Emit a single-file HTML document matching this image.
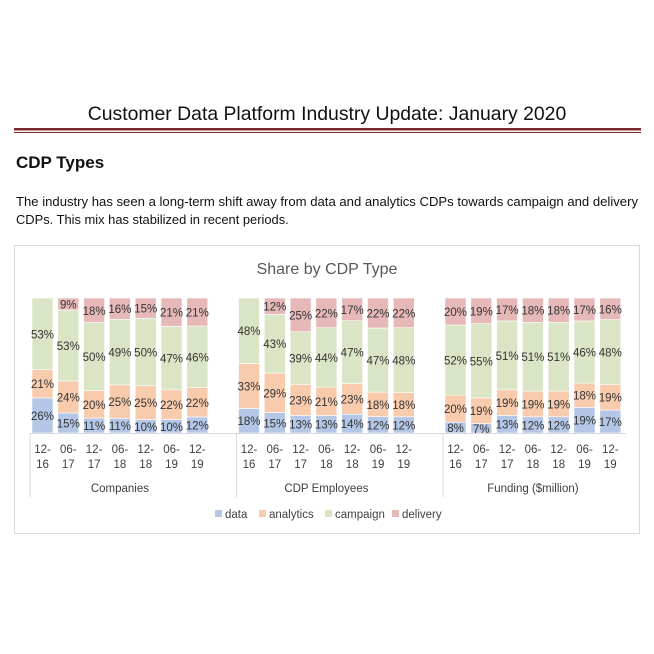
<!DOCTYPE html>
<html><head><meta charset="utf-8"><style>
body{margin:0;background:#fff;font-family:"Liberation Sans",sans-serif;}
svg{display:block}
</style></head><body>
<svg width="654" height="654" viewBox="0 0 654 654" font-family="Liberation Sans, sans-serif">
<text x="327" y="120" text-anchor="middle" font-size="19.4" fill="#111">Customer Data Platform Industry Update: January 2020</text>
<rect x="14" y="128" width="627" height="2.5" fill="#7b2a2a"/>
<rect x="14" y="132" width="627" height="1" fill="#7b2a2a"/>
<text x="16" y="168" font-size="17" font-weight="bold" fill="#111">CDP Types</text>
<text x="16" y="206" font-size="12.9" fill="#111" textLength="622" lengthAdjust="spacingAndGlyphs">The industry has seen a long-term shift away from data and analytics CDPs towards campaign and delivery</text>
<text x="16" y="224" font-size="12.9" fill="#111">CDPs.  This mix has stabilized in recent periods.</text>
<rect x="14.5" y="245.5" width="625" height="288" fill="#fff" stroke="#d9d9d9"/>
<text x="327" y="274" text-anchor="middle" font-size="16" fill="#595959">Share by CDP Type</text>
<g id="plot"></g>
<g font-size="11.5" fill="#404040">
<rect x="215" y="510" width="7" height="7" fill="#b4c7e7"/><text x="225" y="518">data</text>
<rect x="259" y="510" width="7" height="7" fill="#f8cbad"/><text x="269" y="518">analytics</text>
<rect x="325" y="510" width="7" height="7" fill="#d9e5c4"/><text x="335" y="518">campaign</text>
<rect x="392" y="510" width="7" height="7" fill="#e6b9b8"/><text x="402" y="518">delivery</text>
</g>
</svg>
<script>
const groups = ["Companies","CDP Employees","Funding ($million)"];
const periods = ["12-16","06-17","12-17","06-18","12-18","06-19","12-19"];
const seriesNames = ["data","analytics","campaign","delivery"];
const dataVals = [[26,15,11,11,10,10,12],[18,15,13,13,14,12,12],[8,7,13,12,12,19,17]];
const analyticsVals = [[21,24,20,25,25,22,22],[33,29,23,21,23,18,18],[20,19,19,19,19,18,19]];
const campaignVals = [[53,53,50,49,50,47,46],[48,43,39,44,47,47,48],[52,55,51,51,51,46,48]];
const deliveryVals = [[0,9,18,16,15,21,21],[0,12,25,22,17,22,22],[20,19,17,18,18,17,16]];
const colors=["#b4c7e7","#f8cbad","#d9e5c4","#e6b9b8"];
const NS="http://www.w3.org/2000/svg";
const plot=document.getElementById('plot');
const yTop=298,yBot=433,barW=21;
function xBar(g,i){return 32+206.5*g+25.8*i;}
function y(frac){return yBot-(yBot-yTop)*frac;}
function mk(t,a){const e=document.createElementNS(NS,t);for(const k in a)e.setAttribute(k,a[k]);plot.appendChild(e);return e;}
const all=[dataVals,analyticsVals,campaignVals,deliveryVals];
for(let g=0;g<groups.length;g++){
  for(let i=0;i<periods.length;i++){
    const vals=all.map(s=>s[g][i]);const tot=vals.reduce((a,b)=>a+b,0);
    let cum=0;const x=xBar(g,i);
    for(let s=0;s<4;s++){
      const v=vals[s];if(v<=0)continue;
      const y0=y(cum/tot),y1=y((cum+v)/tot);cum+=v;
      const r=mk('rect',{x:x,y:y1,width:barW,height:y0-y1,fill:colors[s],stroke:'#fff','stroke-width':0.6});
      
      
      const t=mk('text',{x:x+barW/2,y:(y0+y1)/2+4.5,'text-anchor':'middle','font-size':11.5,fill:'#333'});
      t.textContent=v+'%';
      
      
    }
    const a=mk('text',{x:x+barW/2,y:453,'text-anchor':'middle','font-size':11.5,fill:'#404040'});
    a.textContent=periods[i].split('-')[0]+'-';
    
    
    const b=mk('text',{x:x+barW/2,y:468,'text-anchor':'middle','font-size':11.5,fill:'#404040'});
    b.textContent=periods[i].split('-')[1];
    
    
  }
  const c=mk('text',{x:xBar(g,3)+barW/2,y:492,'text-anchor':'middle','font-size':11.5,fill:'#404040'});
  c.textContent=groups[g];
  
  
}
const ax=mk('line',{x1:30,x2:626,y1:yBot+0.5,y2:yBot+0.5,stroke:'#d9d9d9'});


for(let g=0;g<=3;g++){
  const sx=30+206.5*g-(g==3?10:0);
  const l=mk('line',{x1:sx,x2:sx,y1:yBot,y2:497,stroke:'#d9d9d9'});
  
  
}
</script>
</body></html>
